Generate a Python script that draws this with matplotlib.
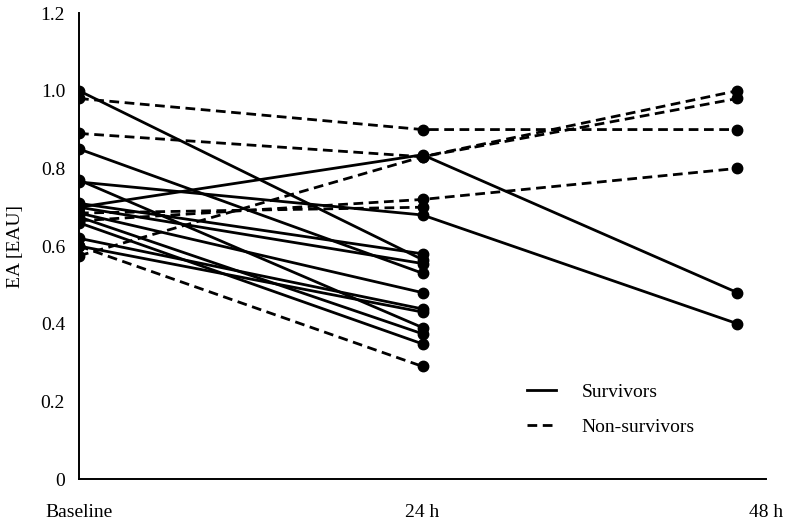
import matplotlib
matplotlib.use("Agg")
import matplotlib.pyplot as plt

# time of measurement in hours (48 h samples were drawn at ~46 h)
hours = [0, 24, 46]
tick_hours = [0, 24, 48]
tick_names = ["Baseline", "24 h", "48 h"]

# EA [EAU] per patient, survivors
survivors = [
    [1.00, 0.565],
    [0.85, 0.53],
    [0.765, 0.68, 0.40],
    [0.77, 0.39],
    [0.70, 0.835, 0.48],
    [0.71, 0.58],
    [0.70, 0.555],
    [0.685, 0.48],
    [0.675, 0.374],
    [0.66, 0.348],
    [0.62, 0.438],
    [0.60, 0.43],
]

# non-survivors
non_survivors = [
    [0.98, 0.90, 0.90],
    [0.89, 0.83, 0.98],
    [0.575, 0.83, 1.00],
    [0.665, 0.72, 0.80],
    [0.685, 0.70],
    [0.60, 0.29],
]

plt.rcParams["font.family"] = ["Liberation Serif", "DejaVu Serif"]
fs = 14

fig = plt.figure(figsize=(7.86, 5.23), dpi=100)
ax = fig.add_axes([0.1005, 0.0841, 0.9746 - 0.1005, 0.975 - 0.0841])

lw = 2.0
for i, p in enumerate(survivors):
    ax.plot(hours[:len(p)], p, color="black", lw=lw, marker="o", ms=7.5,
            label="Survivors" if i == 0 else None)
for i, p in enumerate(non_survivors):
    ax.plot(hours[:len(p)], p, color="black", lw=lw, marker="o", ms=7.5,
            dashes=(3.5, 2), label="Non-survivors" if i == 0 else None)

ax.set_xlim(0, 48)
ax.set_ylim(0, 1.2)
ax.set_xticks(tick_hours)
ax.set_xticklabels(tick_names, fontsize=fs)
ax.set_yticks([0, 0.2, 0.4, 0.6, 0.8, 1.0, 1.2])
ax.set_yticklabels(["0", "0.2", "0.4", "0.6", "0.8", "1.0", "1.2"], fontsize=fs)
ax.tick_params(axis="both", length=0)
ax.tick_params(axis="y", pad=10)
ax.tick_params(axis="x", pad=18)
ax.set_ylabel("EA [EAU]", fontsize=fs, labelpad=12)

for s in ["top", "right"]:
    ax.spines[s].set_visible(False)
for s in ["left", "bottom"]:
    ax.spines[s].set_linewidth(1.4)

leg = ax.legend(loc="upper left", bbox_to_anchor=(0.652, 0.205), frameon=False,
                fontsize=fs, handlelength=1.5, handletextpad=1.3, labelspacing=0.9,
                borderpad=0, borderaxespad=0)
for h in leg.legend_handles:
    h.set_marker("")

fig.savefig("out.png", dpi=100)
